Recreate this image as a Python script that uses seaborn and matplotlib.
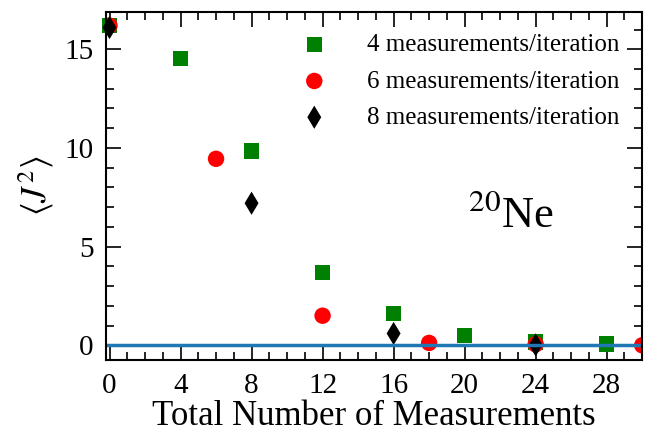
import numpy as np
import pandas as pd
import matplotlib
matplotlib.use("Agg")
import matplotlib.pyplot as plt
from matplotlib.ticker import MultipleLocator
import seaborn as sns

sns.set_theme(style="ticks")
plt.rcParams["font.family"] = ["Liberation Serif", "DejaVu Serif"]
plt.rcParams["mathtext.fontset"] = "stix"
plt.rcParams.update({"text.color": "black", "axes.labelcolor": "black",
                     "xtick.color": "black", "ytick.color": "black",
                     "axes.edgecolor": "black"})

# ── Data ──────────────────────────────────────────────────────────────────────
x4 = [0, 4, 8, 12, 16, 20, 24, 28]
y4 = [16.2, 14.55, 9.85, 3.7, 1.6, 0.5, 0.17, 0.07]
x6 = [0, 6, 12, 18, 24, 30]
y6 = [16.2, 9.45, 1.5, 0.12, 0.05, 0.0]
x8 = [0, 8, 16, 24]
y8 = [16.1, 7.2, 0.6, 0.02]
labels = ["4 measurements/iteration", "6 measurements/iteration", "8 measurements/iteration"]

df = pd.concat([
    pd.DataFrame({"n": x4, "j2": y4, "series": labels[0]}),
    pd.DataFrame({"n": x6, "j2": y6, "series": labels[1]}),
    pd.DataFrame({"n": x8, "j2": y8, "series": labels[2]}),
])

fig = plt.figure(figsize=(6.5, 4.37), dpi=100)
ax = fig.add_axes([0.163, 0.176, 0.825, 0.797])

palette = {labels[0]: "green", labels[1]: "red", labels[2]: "black"}
markers = {labels[0]: "s", labels[1]: "o", labels[2]: "d"}
sizes = {labels[0]: 120, labels[1]: 140, labels[2]: 140}
for lab in labels:
    sns.scatterplot(data=df[df["series"] == lab], x="n", y="j2", color=palette[lab],
                    marker=markers[lab], s=sizes[lab], edgecolor="none",
                    label=lab, ax=ax, clip_on=(lab == labels[1]))

ax.axhline(0, color="#1f77b4", lw=2.5)

ax.set_xlim(-0.2, 30)
ax.set_ylim(-0.75, 16.9)
ax.xaxis.set_major_locator(MultipleLocator(4))
ax.xaxis.set_minor_locator(MultipleLocator(1))
ax.yaxis.set_major_locator(MultipleLocator(5))
ax.yaxis.set_minor_locator(MultipleLocator(1))
ax.tick_params(which="both", direction="in", top=True, right=True, width=1.2)
ax.tick_params(which="major", length=11, labelsize=21, pad=9)
ax.tick_params(which="minor", length=5.5)
for sp in ax.spines.values():
    sp.set_linewidth(1.5)

ax.set_xlabel("Total Number of Measurements", fontsize=25, labelpad=1)
ax.set_ylabel(r"$\langle J^2 \rangle$", fontsize=25, labelpad=6)

ax.text(22.6, 6.6, r"$^{20}$Ne", fontsize=32, ha="center", va="center")

ax.legend(loc="upper right", frameon=False, fontsize=18, handletextpad=1.1,
          borderaxespad=0.2, labelspacing=0.55, markerscale=1.0,
          bbox_to_anchor=(0.985, 0.98))

fig.savefig("out.png", dpi=100)
